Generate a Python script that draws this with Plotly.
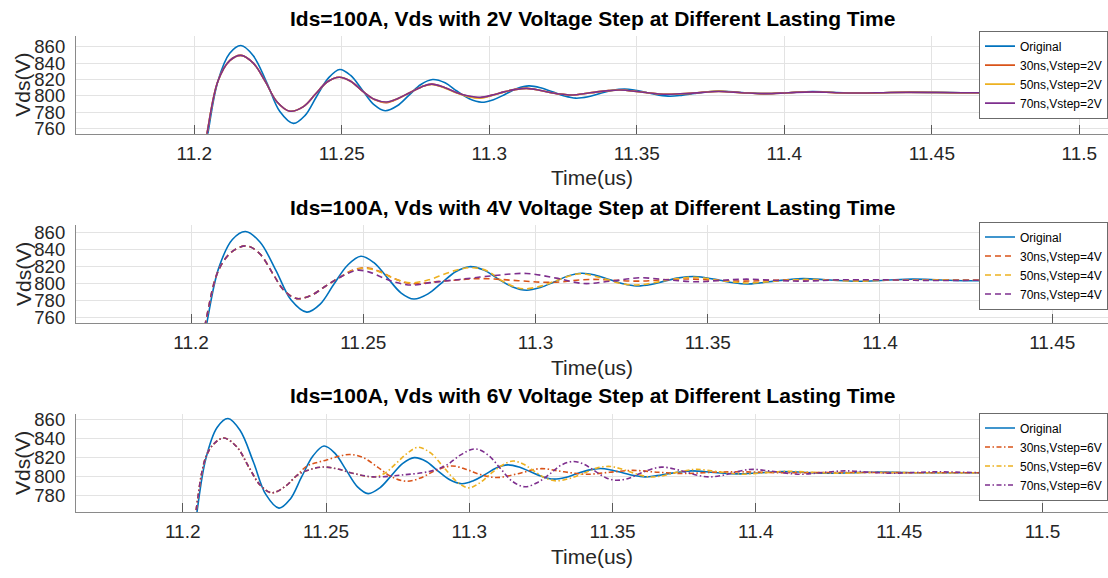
import plotly.graph_objects as go

# ---------------- data ----------------
time_original = [11.2010, 11.2046, 11.2080, 11.2120, 11.2158, 11.2200, 11.2246, 11.2290, 11.2336, 11.2375,
                 11.2414, 11.2455, 11.2493, 11.2530, 11.2570, 11.2610, 11.2647, 11.2688, 11.2728, 11.2768,
                 11.2808, 11.2850, 11.2890, 11.2932, 11.2974, 11.3014, 11.3054, 11.3094, 11.3134, 11.3174,
                 11.3214, 11.3254, 11.3293, 11.3335, 11.3375, 11.3416, 11.3458, 11.3495, 11.3535, 11.3575,
                 11.3613, 11.3655, 11.3695, 11.3735, 11.3777, 11.3855, 11.3935, 11.4015, 11.4095, 11.4175,
                 11.4255, 11.4335, 11.4415, 11.4600, 11.4800, 11.5000, 11.5300]
vds_original = [670, 754, 818, 852, 861.5, 849, 816, 781, 766.5, 776,
                799, 822, 832.3, 825, 807, 789, 781.9, 788, 801, 814,
                820, 816, 806, 796.5, 792.3, 795.5, 802, 809, 812.3, 810,
                805, 800, 797.3, 799, 803, 806.8, 808.5, 807, 804, 801,
                799.6, 801, 803, 804.8, 806, 804.3, 802.8, 804, 805.3, 804.3,
                803.4, 804, 804.6, 804, 804, 804, 804]

time_2v = [11.2010, 11.2043, 11.2080, 11.2120, 11.2158, 11.2200, 11.2240, 11.2280, 11.2324, 11.2370,
           11.2410, 11.2450, 11.2491, 11.2530, 11.2570, 11.2610, 11.2652, 11.2690, 11.2730, 11.2770,
           11.2805, 11.2850, 11.2890, 11.2930, 11.2969, 11.3010, 11.3050, 11.3090, 11.3127, 11.3170,
           11.3210, 11.3250, 11.3284, 11.3325, 11.3365, 11.3405, 11.3443, 11.3520, 11.3600, 11.3690,
           11.3777, 11.3855, 11.3935, 11.4015, 11.4095, 11.4175, 11.4255, 11.4335, 11.4415, 11.4600,
           11.4800, 11.5000, 11.5300]
vds_2v_30ns = [680, 754, 818, 843, 849.5, 840, 818, 793, 781.4, 787,
               802, 817, 822.9, 818, 806, 795.5, 791.8, 796.5, 804, 811,
               814.4, 810, 804, 799.5, 797.8, 801, 805, 808, 809.2, 807,
               804, 802, 801.1, 803, 805, 806.5, 807.2, 804.5, 802, 803.5,
               805.8, 804, 802.8, 804, 805.2, 804, 803.5, 804, 804.5, 804,
               804, 804, 804]
vds_2v_50ns = [680, 754, 818, 843, 849.5, 840, 818, 793, 781.4, 787,
               802, 817, 822.9, 818, 806, 796, 792.4, 797, 804, 811,
               814, 809.5, 803.5, 799, 797.2, 800.5, 805, 808, 809.2, 807,
               804, 802, 801.1, 803, 805, 806.5, 807.2, 804.5, 802, 803.5,
               805.6, 804, 802.8, 804, 805.1, 804, 803.6, 804, 804.4, 804,
               804, 804, 804]
vds_2v_70ns = [680, 754, 818, 843, 849.5, 840, 818, 793, 781.4, 787,
               802, 817, 822.9, 818, 806, 796, 792.6, 797, 804, 811,
               814.4, 810, 804, 800, 798.3, 801, 805, 808, 809.2, 807,
               804, 802, 801.1, 803, 805, 806.5, 807.2, 804.5, 802, 803.5,
               805.5, 804, 802.8, 804, 805, 804, 803.6, 804, 804.4, 804,
               804, 804, 804]

time_4v_30ns = [11.2010, 11.2042, 11.2080, 11.2120, 11.2162, 11.2200, 11.2240, 11.2270, 11.2307, 11.2350,
                11.2390, 11.2430, 11.2470, 11.2510, 11.2550, 11.2590, 11.2636, 11.2730, 11.2840, 11.2950,
                11.3042, 11.3158, 11.3293, 11.3429, 11.3593, 11.3738, 11.3900, 11.4100, 11.4400, 11.4700,
                11.5000]
vds_4v_30ns = [680, 754, 816, 838, 844.4, 835, 810, 792, 782.4, 786.5,
               797, 807, 816, 818.8, 814, 806, 800.2, 803, 806, 803.5,
               801.5, 805, 803, 805.5, 803, 804.5, 804, 804.3, 804, 804,
               804]
time_4v_50ns = [11.2010, 11.2042, 11.2080, 11.2120, 11.2162, 11.2200, 11.2240, 11.2270, 11.2307, 11.2350,
                11.2390, 11.2430, 11.2470, 11.2510, 11.2550, 11.2590, 11.2636, 11.2690, 11.2740, 11.2780,
                11.2819, 11.2860, 11.2900, 11.2935, 11.2964, 11.3010, 11.3050, 11.3090, 11.3129, 11.3170,
                11.3210, 11.3250, 11.3293, 11.3335, 11.3375, 11.3415, 11.3458, 11.3535, 11.3613, 11.3695,
                11.3777, 11.3860, 11.3940, 11.4020, 11.4100, 11.4300, 11.4600, 11.5000]
vds_4v_50ns = [680, 754, 816, 838, 844.4, 835, 810, 792, 782.4, 786.5,
               797, 807, 815.5, 818, 813.5, 806, 801, 804.5, 812, 817,
               818.8, 815, 804, 797, 794, 796.5, 802, 808, 811.7, 809,
               804.5, 800, 798.4, 800.5, 803.5, 806, 807.5, 804, 800.8, 803,
               805, 804, 803, 804, 804.6, 804, 804, 804]
time_4v_70ns = [11.2010, 11.2042, 11.2080, 11.2120, 11.2162, 11.2200, 11.2240, 11.2270, 11.2307, 11.2350,
                11.2390, 11.2430, 11.2481, 11.2520, 11.2560, 11.2600, 11.2640, 11.2702, 11.2780, 11.2880,
                11.2974, 11.3060, 11.3139, 11.3220, 11.3303, 11.3385, 11.3468, 11.3540, 11.3613, 11.3700,
                11.3780, 11.3880, 11.4000, 11.4150, 11.4300, 11.4600, 11.5000]
vds_4v_70ns = [680, 754, 816, 838, 844.4, 835, 810, 792, 782.4, 786.5,
               797, 807, 815.8, 813.3, 806.5, 801, 798.4, 801.5, 805, 809.5,
               812, 806.5, 800.2, 803, 806.9, 804.5, 802.2, 804, 805.3, 803.8,
               803, 804.5, 804.5, 803.8, 804, 804, 804]

time_6v_30ns = [11.2010, 11.2042, 11.2080, 11.2110, 11.2144, 11.2190, 11.2230, 11.2270, 11.2311, 11.2360,
                11.2398, 11.2433, 11.2470, 11.2502, 11.2545, 11.2584, 11.2630, 11.2680, 11.2730, 11.2782,
                11.2830, 11.2880, 11.2939, 11.2990, 11.3040, 11.3096, 11.3170, 11.3247, 11.3330, 11.3410,
                11.3490, 11.3572, 11.3660, 11.3750, 11.3850, 11.3950, 11.4100, 11.4300, 11.4600, 11.5000,
                11.5300]
vds_6v_30ns = [680, 754, 820, 835, 840.8, 831, 810.5, 791, 782.8, 790,
               801, 811, 815, 817.5, 821.5, 823.3, 820, 810, 799.5, 795,
               798.5, 806, 811.2, 807.5, 802, 798.9, 803, 808.3, 805, 802.4,
               804.5, 806.5, 804.5, 803.2, 804.5, 805, 804, 804.3, 804, 804,
               804]
time_6v_50ns = [11.2010, 11.2042, 11.2080, 11.2110, 11.2144, 11.2190, 11.2230, 11.2270, 11.2311, 11.2360,
                11.2398, 11.2440, 11.2491, 11.2540, 11.2600, 11.2665, 11.2705, 11.2745, 11.2785, 11.2822,
                11.2865, 11.2910, 11.2955, 11.2996, 11.3035, 11.3075, 11.3115, 11.3153, 11.3190, 11.3230,
                11.3268, 11.3305, 11.3350, 11.3400, 11.3445, 11.3491, 11.3525, 11.3560, 11.3595, 11.3630,
                11.3670, 11.3710, 11.3750, 11.3793, 11.3870, 11.3950, 11.4030, 11.4110, 11.4200, 11.4300,
                11.4400, 11.4600, 11.5000, 11.5300]
vds_6v_50ns = [680, 754, 820, 835, 840.8, 831, 810.5, 791, 782.8, 790,
               801, 807, 810.1, 808, 803, 799.6, 803.5, 814, 825, 831,
               825, 810, 795, 788, 793, 803, 812, 816.4, 813, 805,
               798, 795.4, 798, 803.5, 809, 810.7, 808.5, 805, 801.5, 799.6,
               800.5, 803.5, 806, 807.6, 805, 802.5, 804, 805.5, 804.5, 803.5,
               804.3, 804, 804, 804]
time_6v_70ns = [11.2010, 11.2042, 11.2080, 11.2110, 11.2144, 11.2190, 11.2230, 11.2270, 11.2311, 11.2360,
                11.2398, 11.2440, 11.2491, 11.2540, 11.2600, 11.2665, 11.2760, 11.2863, 11.2920, 11.2970,
                11.3020, 11.3065, 11.3110, 11.3150, 11.3194, 11.3240, 11.3280, 11.3320, 11.3363, 11.3400,
                11.3440, 11.3478, 11.3514, 11.3555, 11.3593, 11.3632, 11.3671, 11.3715, 11.3755, 11.3800,
                11.3840, 11.3880, 11.3920, 11.3955, 11.3991, 11.4070, 11.4154, 11.4230, 11.4310, 11.4390,
                11.4470, 11.4550, 11.4630, 11.4800, 11.5000, 11.5300]
vds_6v_70ns = [680, 754, 820, 835, 840.8, 831, 810.5, 791, 782.8, 790,
               801, 807, 810.1, 808, 803, 799.6, 801.5, 805.5, 812, 823,
               829.3, 823, 808, 795, 789.1, 794, 802.5, 812, 816, 813,
               805.5, 798.5, 796, 798, 803, 807.5, 810, 808, 804.8, 801,
               799.6, 801, 804, 806.5, 807.6, 805, 802.4, 804.2, 806, 804.7,
               803.5, 804.2, 805, 804, 804, 804]

x_tick_values = [11.2, 11.25, 11.3, 11.35, 11.4, 11.45, 11.5]
x_tick_labels = ["11.2", "11.25", "11.3", "11.35", "11.4", "11.45", "11.5"]
y_tick_values_a = [760, 780, 800, 820, 840, 860]
y_tick_values_b = [780, 800, 820, 840, 860]

titles = ["Ids=100A, Vds with 2V Voltage Step at Different Lasting Time",
          "Ids=100A, Vds with 4V Voltage Step at Different Lasting Time",
          "Ids=100A, Vds with 6V Voltage Step at Different Lasting Time"]
legend_names = ["Original", "30ns,Vstep={v}", "50ns,Vstep={v}", "70ns,Vstep={v}"]
steps = ["2V", "4V", "6V"]

# ---------------- styling / layout ----------------
W, H = 1108, 578
FONT = "Liberation Sans, Arial, Helvetica, sans-serif"
COLORS = ["#0072BD", "#D95319", "#EDB120", "#7E2F8E"]
DASHES = ["solid", "6px,4px", "5px,2.5px,1.5px,2.5px"]
LW = 1.6

def fy(p):
    return 1 - p / H

panel_geom = [
    dict(top=32.3, bottom=131.7, xr=[11.1599, 11.5097], yr=[754, 873.4], yt=y_tick_values_a, leg_top=27),
    dict(top=224.3, bottom=324.3, xr=[11.1666, 11.4662], yr=[753.4, 869.3], yt=y_tick_values_a, leg_top=221),
    dict(top=416.0, bottom=516.5, xr=[11.16277, 11.52286], yr=[761.9, 866.8], yt=y_tick_values_b, leg_top=415),
]

series = [
    [(time_original, vds_original), (time_2v, vds_2v_30ns), (time_2v, vds_2v_50ns), (time_2v, vds_2v_70ns)],
    [(time_original, vds_original), (time_4v_30ns, vds_4v_30ns), (time_4v_50ns, vds_4v_50ns), (time_4v_70ns, vds_4v_70ns)],
    [(time_original, vds_original), (time_6v_30ns, vds_6v_30ns), (time_6v_50ns, vds_6v_50ns), (time_6v_70ns, vds_6v_70ns)],
]

fig = go.Figure()
layout = dict(
    width=W, height=H, margin=dict(l=0, r=0, t=0, b=0),
    paper_bgcolor="white", plot_bgcolor="white",
    font=dict(family=FONT, color="#262626"),
    showlegend=True, hovermode=False,
)
annotations = []
x_dom = [76 / W, 1.0]
xc = (x_dom[0] + x_dom[1]) / 2

for i, (geom, ser) in enumerate(zip(panel_geom, series)):
    k = "" if i == 0 else str(i + 1)
    leg = "legend" + k
    for j, (t, v) in enumerate(ser):
        name = legend_names[j].format(v=steps[i])
        fig.add_trace(go.Scatter(
            x=t, y=v, mode="lines", name=name,
            line=dict(color=COLORS[j], width=LW, shape="spline", smoothing=1.0,
                      dash="solid" if j == 0 else DASHES[i]),
            xaxis="x" + k, yaxis="y" + k, legend=leg, hoverinfo="skip",
        ))
    dom_y = [fy(geom["bottom"]), fy(geom["top"])]
    layout["xaxis" + k] = dict(
        domain=x_dom, range=geom["xr"], anchor="y" + k,
        tickmode="array", tickvals=x_tick_values, ticktext=x_tick_labels,
        ticks="inside", ticklen=9, tickwidth=1, tickcolor="#5a5a5a",
        showline=True, linecolor="#8a8a8a", linewidth=1.2,
        showgrid=True, gridcolor="#e3e3e3", gridwidth=1, zeroline=False,
        tickfont=dict(size=19, color="#262626", family=FONT),
        ticklabelstandoff=2, fixedrange=True,
    )
    layout["yaxis" + k] = dict(
        domain=dom_y, range=geom["yr"], anchor="x" + k,
        tickmode="array", tickvals=geom["yt"],
        ticks="", showline=True, linecolor="#8a8a8a", linewidth=1.2,
        showgrid=True, gridcolor="#e3e3e3", gridwidth=1, zeroline=False,
        tickfont=dict(size=18.5, color="#262626", family=FONT),
        ticklabelstandoff=6, fixedrange=True,
    )
    layout[leg] = dict(
        x=1.0, xanchor="right", xref="paper", y=fy(geom["leg_top"]), yanchor="top", yref="paper",
        bgcolor="white", bordercolor="#6b6b6b", borderwidth=1,
        font=dict(size=12, family=FONT, color="#000000"),
        tracegroupgap=0, itemwidth=30,
    )
    annotations.append(dict(
        text="<b>" + titles[i] + "</b>", xref="paper", yref="paper",
        x=xc, y=fy(geom["top"] - 18), xanchor="center", yanchor="middle", showarrow=False,
        font=dict(size=21, family=FONT, color="#000000"),
    ))
    annotations.append(dict(
        text="Time(us)", xref="paper", yref="paper",
        x=xc, y=fy(geom["bottom"] + 44.5), xanchor="center", yanchor="middle", showarrow=False,
        font=dict(size=21, family=FONT, color="#262626"),
    ))
    annotations.append(dict(
        text="Vds(V)", xref="paper", yref="paper", textangle=-90,
        x=23 / W, y=fy((geom["top"] + geom["bottom"]) / 2), xanchor="center", yanchor="middle",
        showarrow=False, font=dict(size=21, family=FONT, color="#262626"),
    ))

layout["annotations"] = annotations
fig.update_layout(**layout)
fig.write_html("out.html", config={"displayModeBar": False})
